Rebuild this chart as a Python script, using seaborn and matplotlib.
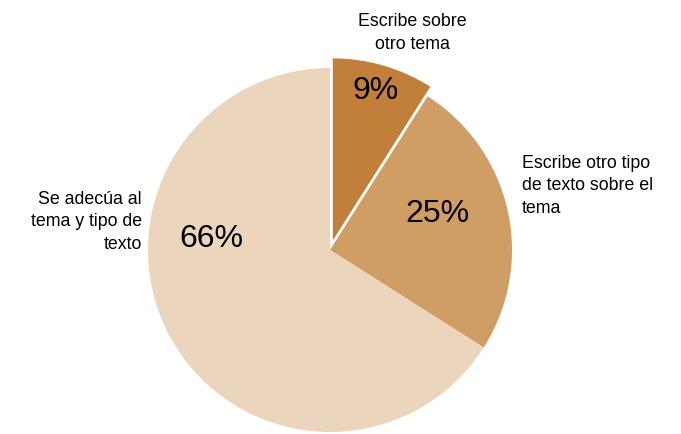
import matplotlib
matplotlib.use("Agg")
import matplotlib.pyplot as plt
import seaborn as sns

# datos del gráfico
categorias = ["Escribe sobre\notro tema",
              "Escribe otro tipo\nde texto sobre el\ntema",
              "Se adecúa al\ntema y tipo de\ntexto"]
porcentajes = [9, 25, 66]
colores = ["#C17F3A", "#D09D64", "#EBD6BD"]
separacion = [0.055, 0, 0]

sns.set_theme(style="white")
plt.rcParams["font.family"] = ["Liberation Sans", "DejaVu Sans"]
plt.rcParams["text.color"] = "black"

fig = plt.figure(figsize=(6.81, 4.34), dpi=100)
ax = fig.add_axes([0, 0, 1, 1])

# centro y radio en píxeles (ejes = figura)
cx, cy, r = 330, 184, 182
wedges, texts, autotexts = ax.pie(
    porcentajes, colors=colores, startangle=90, counterclock=False,
    explode=[s * r for s in separacion], center=(cx, cy), radius=r,
    autopct="%d%%", pctdistance=0.86,
    wedgeprops=dict(linewidth=0),
    textprops=dict(fontsize=23, color="black"))

# ajustar posición de los porcentajes como en la referencia
autotexts[0].set_position((376, 434 - 91))
autotexts[1].set_position((437, 434 - 214))
autotexts[2].set_position((211, 434 - 239))

# etiquetas de categorías
ax.text(412, 434 - 33, categorias[0], ha="center", va="center",
        fontsize=12.8, linespacing=1.42, color="black")
ax.text(522, 434 - 186, categorias[1], ha="left", va="center",
        fontsize=12.8, linespacing=1.42, color="black")
ax.text(142, 434 - 222, categorias[2], ha="right", va="center",
        fontsize=12.8, linespacing=1.42, color="black")

ax.set_xlim(0, 681)
ax.set_ylim(0, 434)
ax.set_aspect("equal")
ax.axis("off")

fig.savefig("out.png", dpi=100)
